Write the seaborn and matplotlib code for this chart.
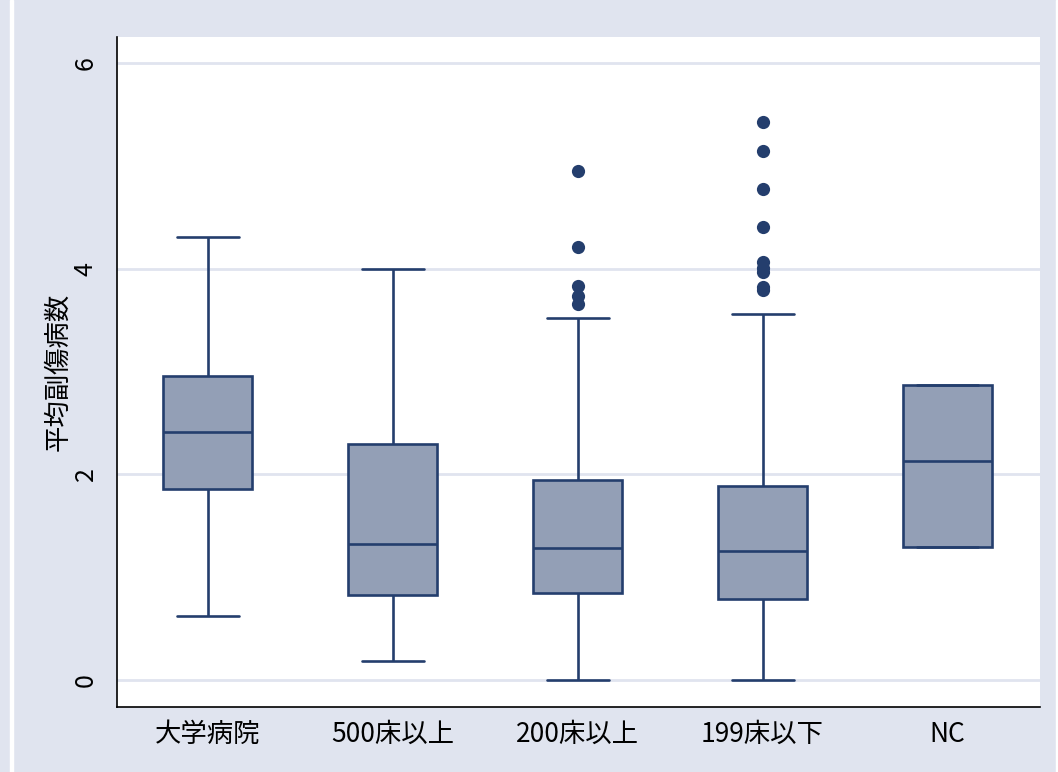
import numpy as np
import pandas as pd
import matplotlib
matplotlib.use("Agg")
import matplotlib.pyplot as plt
import seaborn as sns

# data (box summary per group)
groups = ['大学病院', '500床以上', '200床以上', '199床以下', 'NC']
whisker_low = [0.62, 0.18, 0.0, 0.0, 1.29]
q1 = [1.86, 0.83, 0.85, 0.79, 1.29]
median = [2.41, 1.32, 1.28, 1.25, 2.13]
q3 = [2.96, 2.29, 1.94, 1.89, 2.87]
whisker_high = [4.31, 4.00, 3.52, 3.56, 2.87]

outliers_200 = [4.95, 4.21, 3.83, 3.73, 3.66]
outliers_199 = [5.43, 5.14, 4.77, 4.41, 4.06, 4.01, 3.97, 3.82, 3.79]

y_ticks = [0, 2, 4, 6]
y_label = '平均副傷病数'

# five points per group reproduce the box stats exactly (whis=(0,100))
rows = []
for i, g in enumerate(groups):
    for v in (whisker_low[i], q1[i], median[i], q3[i], whisker_high[i]):
        rows.append({'group': g, 'value': v})
box_df = pd.DataFrame(rows)

out_df = pd.DataFrame(
    [{'group': '200床以上', 'value': v} for v in outliers_200] +
    [{'group': '199床以下', 'value': v} for v in outliers_199]
)

bg = '#e0e4ef'
fill = '#939fb6'
edge = '#243e6d'

sns.set_style("white")
plt.rcParams['font.family'] = ['Noto Sans CJK JP', 'DejaVu Sans']
plt.rcParams['text.color'] = 'black'
plt.rcParams['axes.labelcolor'] = 'black'
plt.rcParams['xtick.color'] = 'black'
plt.rcParams['ytick.color'] = 'black'

fig = plt.figure(figsize=(10.58, 7.72), dpi=100, facecolor=bg)
ax = fig.add_axes([117/1058, 1 - 707/772, (1040 - 117)/1058, (707 - 37)/772])
ax.set_facecolor('white')

sns.boxplot(
    data=box_df, x='group', y='value', order=groups, ax=ax,
    whis=(0, 100), width=0.48, color=fill, saturation=1,
    linecolor=edge, linewidth=1.9, capwidths=0.335, showfliers=False,
)
sns.stripplot(
    data=out_df, x='group', y='value', order=groups, ax=ax,
    jitter=False, color=edge, size=9.5, linewidth=0,
)

ax.set_ylim(-0.263, 6.253)
ax.set_xlim(-0.49, 4.5)
ax.set_yticks(y_ticks)
ax.set_yticklabels([str(t) for t in y_ticks], rotation=90, va='center')
ax.yaxis.grid(True, color=bg, linewidth=2)
ax.set_axisbelow(True)

ax.tick_params(axis='y', length=8, width=1, color='black', pad=5, labelsize=18)
ax.tick_params(axis='x', length=0, pad=10, labelsize=19)
ax.set_xlabel('')
ax.set_ylabel(y_label, fontsize=19, labelpad=1)

for side in ['top', 'right']:
    ax.spines[side].set_visible(False)
for side in ['left', 'bottom']:
    ax.spines[side].set_color('black')
    ax.spines[side].set_linewidth(1.2)

# thin white stripes seen at the figure edges
fig.add_artist(plt.Rectangle((10/1058, 0), 3/1058, 1, transform=fig.transFigure,
                             color='white', zorder=-1))
fig.add_artist(plt.Rectangle((1056/1058, 0), 2/1058, 1, transform=fig.transFigure,
                             color='white', zorder=-1))

fig.savefig('out.png', dpi=100, facecolor=bg)
